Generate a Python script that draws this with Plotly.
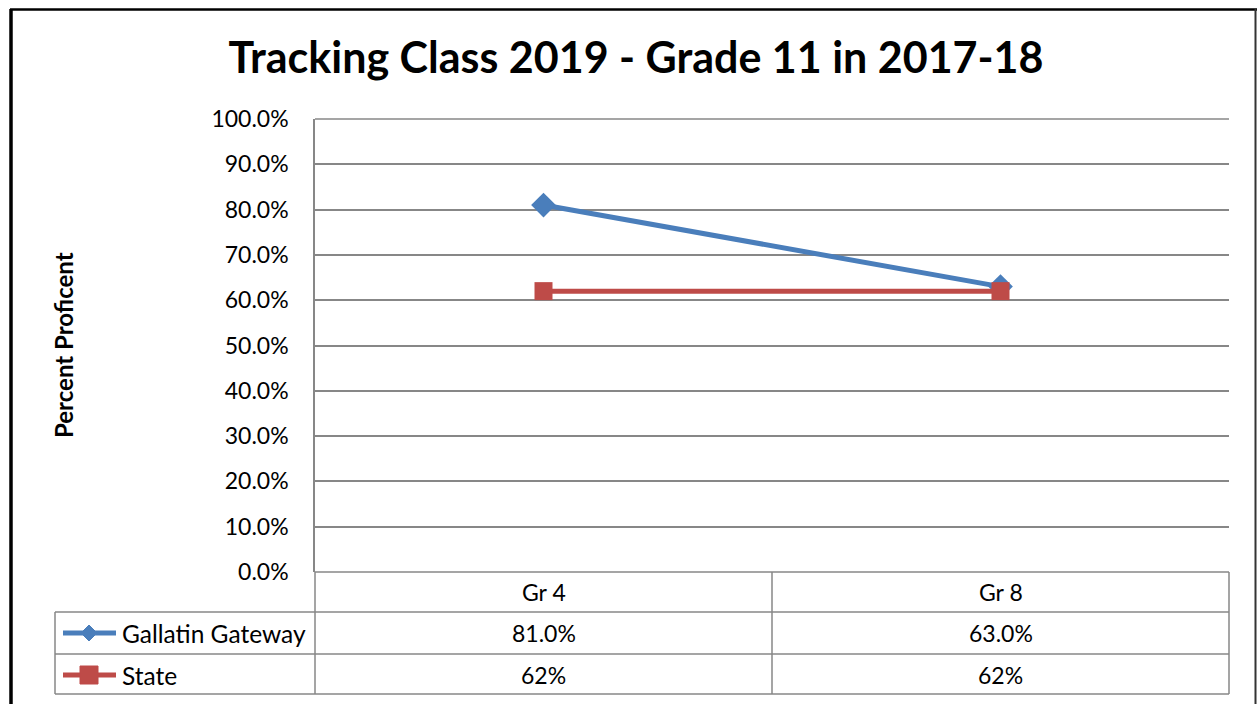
import plotly.graph_objects as go

# ---- data ----
categories = ["Gr 4", "Gr 8"]
series_names = ["Gallatin Gateway", "State"]
gallatin_values = [0.81, 0.63]
state_values = [0.62, 0.62]
gallatin_labels = ["81.0%", "63.0%"]
state_labels = ["62%", "62%"]
y_tick_values = [0.0, 0.1, 0.2, 0.3, 0.4, 0.5, 0.6, 0.7, 0.8, 0.9, 1.0]
title_text = "Tracking Class 2019 - Grade 11 in 2017-18"
y_title = "Percent Proficent"

W, H = 1257, 704
L, R, T, B = 315, 28, 119, 132
PW, PH = W - L - R, H - T - B

FONT = "Lato"
BLUE = "#4A7EBB"
RED = "#BE4B48"
GRID = "#878787"


def px(x):
    return (x - L) / PW


def py(y):
    return (H - B - y) / PH


fig = go.Figure()
fig.add_trace(go.Scatter(
    x=categories, y=gallatin_values, name=series_names[0], mode="lines+markers",
    line=dict(color=BLUE, width=5), marker=dict(symbol="diamond", size=19, color=BLUE),
))
fig.add_trace(go.Scatter(
    x=categories, y=state_values, name=series_names[1], mode="lines+markers",
    line=dict(color=RED, width=5), marker=dict(symbol="square", size=18, color=RED),
))

shapes = []
annotations = []
gl = dict(color=GRID, width=1.5)

# top and bottom gridlines (range edges)
for yv in [0, 1]:
    shapes.append(dict(type="line", xref="paper", yref="paper", x0=0, x1=1,
                       y0=yv, y1=yv, line=gl, layer="below"))

# table horizontal lines
for yy in [612, 654, 694]:
    shapes.append(dict(type="line", xref="paper", yref="paper", x0=px(55), x1=px(1229),
                       y0=py(yy), y1=py(yy), line=gl))
# table vertical lines
shapes.append(dict(type="line", xref="paper", yref="paper", x0=px(55), x1=px(55),
                   y0=py(612), y1=py(694), line=gl))
for xx in [315, 772, 1229]:
    shapes.append(dict(type="line", xref="paper", yref="paper", x0=px(xx), x1=px(xx),
                       y0=py(572), y1=py(694), line=gl))

# outer chart border
shapes.append(dict(type="line", xref="paper", yref="paper", x0=px(11), x1=px(11),
                   y0=py(9), y1=py(710), line=dict(color="black", width=3.5)))
shapes.append(dict(type="line", xref="paper", yref="paper", x0=px(10), x1=px(1257),
                   y0=py(9.5), y1=py(9.5), line=dict(color="black", width=2.5)))
shapes.append(dict(type="line", xref="paper", yref="paper", x0=px(1255.5), x1=px(1255.5),
                   y0=py(9), y1=py(710), line=dict(color="#333333", width=2)))

CELL = 23
# header row (categories)
cat_centers = [(315 + 772) / 2, (772 + 1229) / 2]
for c, cx in zip(categories, cat_centers):
    annotations.append(dict(text=c, xref="paper", yref="paper", x=px(cx), y=py(592),
                            showarrow=False, font=dict(family=FONT, size=CELL, color="black"),
                            xanchor="center", yanchor="middle"))

rows = [(series_names[0], gallatin_labels, 633, BLUE, "diamond"),
        (series_names[1], state_labels, 675, RED, "square")]
for name, labels, yy, col, sym in rows:
    annotations.append(dict(text=name, xref="paper", yref="paper", x=px(120), y=py(yy),
                            showarrow=False, font=dict(family=FONT, size=24.5, color="black"),
                            xanchor="left", yanchor="middle"))
    for lab, cx in zip(labels, cat_centers):
        annotations.append(dict(text=lab, xref="paper", yref="paper", x=px(cx), y=py(yy),
                                showarrow=False, font=dict(family=FONT, size=CELL, color="black"),
                                xanchor="center", yanchor="middle"))
    # legend key line
    shapes.append(dict(type="line", xref="paper", yref="paper", x0=px(63), x1=px(116),
                       y0=py(yy), y1=py(yy), line=dict(color=col, width=5)))
    if sym == "diamond":
        cx, cy, r = 89, yy, 8
        path = "M {},{} L {},{} L {},{} L {},{} Z".format(
            px(cx), py(cy - r), px(cx + r), py(cy), px(cx), py(cy + r), px(cx - r), py(cy))
        shapes.append(dict(type="path", xref="paper", yref="paper", path=path,
                           fillcolor=col, line=dict(color=col, width=1)))
    else:
        shapes.append(dict(type="rect", xref="paper", yref="paper", x0=px(80), x1=px(98),
                           y0=py(yy - 9), y1=py(yy + 9), fillcolor=col,
                           line=dict(color=col, width=1)))

# y axis title
annotations.append(dict(text="<b>" + y_title + "</b>", xref="paper", yref="paper",
                        x=px(63), y=py(345), showarrow=False, textangle=-90,
                        font=dict(family=FONT, size=24, color="black"),
                        xanchor="center", yanchor="middle"))

fig.update_layout(
    width=W, height=H,
    margin=dict(l=L, r=R, t=T, b=B, pad=0),
    paper_bgcolor="white", plot_bgcolor="white",
    showlegend=False,
    title=dict(text="<b>" + title_text + "</b>", x=636 / W, xanchor="center",
               y=1 - 58 / H, yanchor="middle", font=dict(family=FONT, size=43, color="black")),
    xaxis=dict(type="category", range=[-0.5, 1.5], showticklabels=False, showgrid=False,
               zeroline=False, showline=False, fixedrange=True),
    yaxis=dict(range=[0, 1], tickvals=y_tick_values, tickformat=".1%",
               showgrid=True, gridcolor=GRID, gridwidth=1.5, zeroline=False,
               showline=True, linecolor=GRID, linewidth=1.5,
               ticks="", ticklabelstandoff=20,
               tickfont=dict(family=FONT, size=23, color="black")),
    shapes=shapes,
    annotations=annotations,
)

fig.write_html("out.html", config={"displayModeBar": False},
               post_script="document.body.style.margin='0';document.body.style.overflow='hidden';")
